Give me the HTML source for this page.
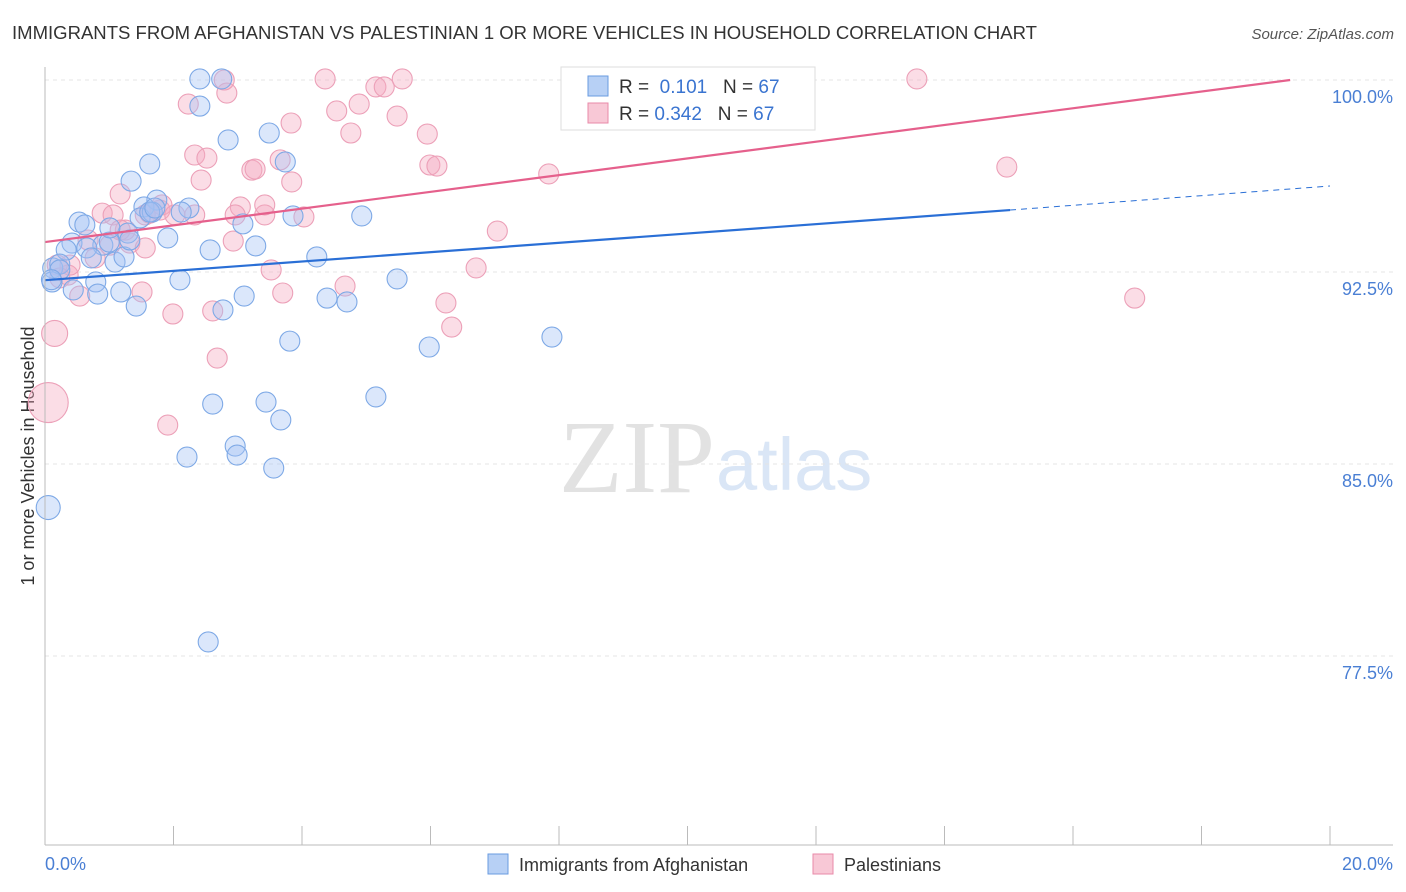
<!DOCTYPE html>
<html><head><meta charset="utf-8"><style>
body{margin:0;background:#fff;font-family:"Liberation Sans",sans-serif}
svg{display:block}
</style></head><body>
<svg id="c" width="1406" height="892">
<text x="12" y="39" font-size="18" fill="#333" textLength="1025" lengthAdjust="spacingAndGlyphs">IMMIGRANTS FROM AFGHANISTAN VS PALESTINIAN 1 OR MORE VEHICLES IN HOUSEHOLD CORRELATION CHART</text>
<text x="1394" y="39" font-size="15" fill="#555" font-style="italic" text-anchor="end">Source: ZipAtlas.com</text>
<text x="715" y="492" font-size="104" fill="#e2e2e2" text-anchor="end" font-family="Liberation Serif">ZIP</text>
<text x="716" y="490" font-size="74" fill="#dae6f6">atlas</text>
<text transform="translate(34,456) rotate(-90)" font-size="18" fill="#333" text-anchor="middle">1 or more Vehicles in Household</text>
<g id="grid"></g><g id="ticks"></g><g id="pts"></g><g id="lines"></g>
<line x1="45" y1="67" x2="45" y2="845" stroke="#bbb"/>
<line x1="45" y1="845" x2="1393" y2="845" stroke="#bbb"/>
<text x="45" y="870" font-size="18" fill="#4a7fd4">0.0%</text>
<text x="1393" y="870" font-size="18" fill="#4a7fd4" text-anchor="end">20.0%</text>
<g>
<rect x="561" y="67" width="254" height="63" fill="#fff" stroke="#ddd"/>
<rect x="588" y="76" width="20" height="20" fill="#b7d0f5" stroke="#6a9be0"/>
<text x="619" y="93" font-size="19" fill="#333">R = <tspan fill="#3a74d0">&#160;0.101</tspan>&#160;&#160;&#160;N = <tspan fill="#3a74d0">67</tspan></text>
<rect x="588" y="103" width="20" height="20" fill="#f8c8d6" stroke="#e88aa8"/>
<text x="619" y="120" font-size="19" fill="#333">R = <tspan fill="#3a74d0">0.342</tspan>&#160;&#160;&#160;N = <tspan fill="#3a74d0">67</tspan></text>
</g>
<g>
<rect x="488" y="854" width="20" height="20" fill="#b7d0f5" stroke="#6a9be0"/>
<text x="519" y="871" font-size="18" fill="#333">Immigrants from Afghanistan</text>
<rect x="813" y="854" width="20" height="20" fill="#f8c8d6" stroke="#e88aa8"/>
<text x="844" y="871" font-size="18" fill="#333">Palestinians</text>
</g>
</svg>
<script>
const yTicks=[100,92.5,85,77.5];
const yTickLabels=["100.0%","92.5%","85.0%","77.5%"];
const xTickVals=[0,2,4,6,8,10,12,14,16,18,20];
const bluePx=[[200,79],[222,79],[715,79],[200,106],[228,140],[269,133],[285,162],[150,164],[131,181],[157,200],[189,208],[144,207],[140,218],[152,212],[79,222],[85,225],[181,212],[293,216],[362,216],[128,233],[168,238],[72,243],[103,245],[87,248],[109,242],[256,246],[243,224],[210,250],[66,250],[91,258],[115,262],[124,257],[317,257],[53,268],[60,264],[52,282],[96,282],[180,280],[73,290],[98,294],[121,292],[136,306],[244,296],[223,310],[327,298],[347,302],[397,279],[290,341],[429,347],[552,337],[376,397],[213,404],[266,402],[281,420],[235,446],[237,455],[187,457],[274,468],[208,642],[150,212],[110,228],[800,79],[60,270],[155,208],[130,240]];
const pinkPx=[[80,296],[68,275],[57,265],[95,258],[88,240],[102,213],[113,215],[120,194],[130,243],[125,230],[145,248],[160,210],[162,205],[175,215],[195,155],[207,158],[201,180],[188,104],[227,93],[224,80],[233,241],[240,207],[252,170],[255,169],[265,215],[265,205],[271,270],[280,160],[292,182],[291,123],[304,217],[283,293],[173,314],[213,311],[217,358],[168,425],[142,292],[325,79],[337,111],[351,133],[359,104],[376,87],[384,87],[397,116],[402,79],[345,286],[427,134],[430,165],[437,166],[446,303],[452,327],[476,268],[497,231],[549,174],[917,79],[1007,167],[1135,298],[195,215],[150,213],[70,265],[60,278],[145,215],[235,215],[110,245],[120,230]];
const blueX=bluePx.map(p=>+((p[0]-45)/1285*20).toFixed(2)), blueY=bluePx.map(p=>+(100-(p[1]-80)/192*7.5).toFixed(2));
const pinkX=pinkPx.map(p=>+((p[0]-45)/1285*20).toFixed(2)), pinkY=pinkPx.map(p=>+(100-(p[1]-80)/192*7.5).toFixed(2));
const blueBig=[[0.05,83.3,12],[0.1,92.2,10]];
const pinkBig=[[0.15,90.1,13],[0.05,87.4,20]];
const blueTrend=[[0,92.18],[15.02,94.92],[20,95.86]];
const pinkTrend=[[0,93.67],[19.38,100]];
const X=v=>45+v/20*1285, Y=v=>80+(100-v)/7.5*192;
const NS="http://www.w3.org/2000/svg";
function mk(t,a,p){const e=document.createElementNS(NS,t);for(const k in a)e.setAttribute(k,a[k]);p.appendChild(e);return e;}
const grid=document.getElementById('grid'),ticks=document.getElementById('ticks'),pts=document.getElementById('pts'),lines=document.getElementById('lines');
yTicks.forEach((v,i)=>{
 const l=mk('line',{x1:45,x2:1393,y1:Y(v),y2:Y(v),stroke:'#e4e4e4','stroke-dasharray':'4,4'},grid);
 
 
 const t=mk('text',{x:1393,y:Y(v)+23,'font-size':18,fill:'#4a7fd4','text-anchor':'end'},ticks);
 t.textContent=yTickLabels[i];
 
 
});
xTickVals.forEach(v=>{
 const l=mk('line',{x1:X(v),x2:X(v),y1:826,y2:845,stroke:'#bbb'},ticks);
 
 
});
function dot(x,y,r,blue){
 const c=mk('circle',{cx:X(x),cy:Y(y),r:r,fill:blue?'rgba(164,196,244,0.4)':'rgba(246,170,192,0.4)',stroke:blue?'#7ea9e6':'#eca0b8','stroke-width':1.1},pts);
 
 
}
pinkX.forEach((x,i)=>dot(x,pinkY[i],10,false));
pinkBig.forEach(p=>dot(p[0],p[1],p[2],false));
blueX.forEach((x,i)=>dot(x,blueY[i],10,true));
blueBig.forEach(p=>dot(p[0],p[1],p[2],true));
const b1=mk('line',{x1:X(blueTrend[0][0]),y1:Y(blueTrend[0][1]),x2:X(blueTrend[1][0]),y2:Y(blueTrend[1][1]),stroke:'#2a6fd6','stroke-width':2.2},lines);


const b2=mk('line',{x1:X(blueTrend[1][0]),y1:Y(blueTrend[1][1]),x2:X(blueTrend[2][0]),y2:Y(blueTrend[2][1]),stroke:'#2a6fd6','stroke-width':1,'stroke-dasharray':'6,5'},lines);


const p1=mk('line',{x1:X(pinkTrend[0][0]),y1:Y(pinkTrend[0][1]),x2:X(pinkTrend[1][0]),y2:Y(pinkTrend[1][1]),stroke:'#e5608c','stroke-width':2.2},lines);


</script>
</body></html>
